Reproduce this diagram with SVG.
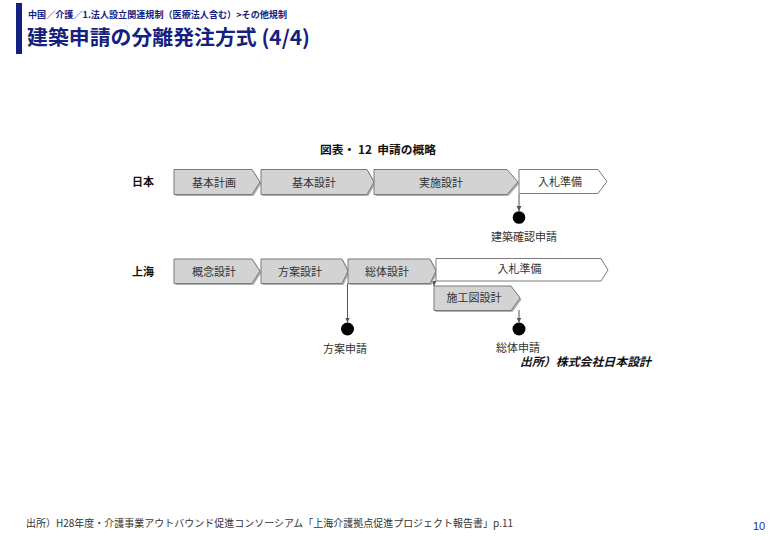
<svg xmlns="http://www.w3.org/2000/svg" width="780" height="540" viewBox="0 0 780 540">
<defs>
<style>
.jp{font-family:"Noto Sans CJK JP","Liberation Sans",sans-serif;}
.crumb{font-size:9px;font-weight:bold;fill:#14217f;}
.title{font-size:20.5px;font-weight:bold;fill:#14217f;}
.cap{font-size:11.5px;font-weight:bold;fill:#111;}
.row{font-size:11px;font-weight:bold;fill:#111;}
.lbl{font-size:11px;fill:#333;text-anchor:middle;}
.gbox{fill:#d3d3d3;stroke:#7a7a7a;stroke-width:1;}
.wbox{fill:#ffffff;stroke:#7a7a7a;stroke-width:1;}
.shadow{fill:#b0b0b0;stroke:none;}
.conn{stroke:#555;stroke-width:1;fill:none;}
.dot{fill:#000;}
.src{font-size:11.5px;font-weight:bold;font-style:italic;fill:#111;}
.foot{font-size:10px;fill:#333;}
.page{font-family:"Liberation Sans",Arial,sans-serif;font-size:11px;fill:#1a2a9a;}
</style>
<marker id="ah" markerWidth="6" markerHeight="6" refX="5" refY="3" orient="auto" markerUnits="userSpaceOnUse">
<path d="M0,0.5 L5,3 L0,5.5 Z" fill="#555"/>
</marker>
</defs>

<rect x="16" y="3" width="6" height="51" fill="#14217f"/>
<text class="jp crumb" x="28" y="18" textLength="259" lengthAdjust="spacingAndGlyphs">中国／介護／1.法人設立関連規制（医療法人含む）&gt;その他規制</text>
<text class="jp title" x="27" y="45" textLength="283" lengthAdjust="spacingAndGlyphs">建築申請の分離発注方式 (4/4)</text>

<text class="jp cap" x="320" y="154" xml:space="preserve" textLength="116" lengthAdjust="spacingAndGlyphs">図表・ 12  申請の概略</text>

<text class="jp row" x="132" y="186">日本</text>
<text class="jp row" x="132" y="276">上海</text>

<g id="connectors">
<line class="conn" x1="519" y1="194" x2="519" y2="211" marker-end="url(#ah)"/>
<line class="conn" x1="347.5" y1="283.5" x2="347.5" y2="322.5" marker-end="url(#ah)"/>
<line class="conn" x1="434" y1="281" x2="434" y2="286" marker-end="url(#ah)"/>
<line class="conn" x1="519" y1="310" x2="519" y2="322.5" marker-end="url(#ah)"/>
</g>

<g id="jp-kihonkeikaku">
<polygon class="shadow" points="175.5,171 253.5,171 261.5,183.5 253.5,196 175.5,196"/>
<polygon class="gbox" points="174,169.5 252,169.5 260,182 252,194.5 174,194.5"/>
<text class="jp lbl" x="214" y="186.5">基本計画</text>
</g>
<g id="jp-kihonsekkei">
<polygon class="shadow" points="262.5,171 368.5,171 375.5,183.5 368.5,196 262.5,196"/>
<polygon class="gbox" points="261,169.5 367,169.5 374,182 367,194.5 261,194.5"/>
<text class="jp lbl" x="314" y="186.5">基本設計</text>
</g>
<g id="jp-jisshisekkei">
<polygon class="shadow" points="375.5,171 508.5,171 519.5,183.5 508.5,196 375.5,196"/>
<polygon class="gbox" points="374,169.5 507,169.5 518,182 507,194.5 374,194.5"/>
<text class="jp lbl" x="441" y="186.5">実施設計</text>
</g>
<g id="jp-nyusatsu">
<polygon class="wbox" points="519,169.5 598,169.5 607,181.5 598,193.5 519,193.5"/>
<text class="jp lbl" x="560" y="186">入札準備</text>
</g>
<g id="jp-kakunin">
<circle class="dot" cx="519" cy="217.5" r="6.3"/>
<text class="jp lbl" x="524" y="240.5">建築確認申請</text>
</g>

<g id="sh-gainen">
<polygon class="shadow" points="175.5,260.5 253.5,260.5 261.5,272.5 253.5,285 175.5,285"/>
<polygon class="gbox" points="174,259 252,259 260,271 252,283.5 174,283.5"/>
<text class="jp lbl" x="214" y="275.5">概念設計</text>
</g>
<g id="sh-hoan">
<polygon class="shadow" points="262.5,260.5 343.5,260.5 349.5,272.5 343.5,285 262.5,285"/>
<polygon class="gbox" points="261,259 342,259 348,271 342,283.5 261,283.5"/>
<text class="jp lbl" x="300" y="275.5">方案設計</text>
</g>
<g id="sh-sotai">
<polygon class="shadow" points="349.5,260.5 431.5,260.5 437.5,272.5 431.5,285 349.5,285"/>
<polygon class="gbox" points="348,259 430,259 436,271 430,283.5 348,283.5"/>
<text class="jp lbl" x="387" y="275.5">総体設計</text>
</g>
<g id="sh-nyusatsu">
<polygon class="wbox" points="436,258.5 601,258.5 608,270 601,281 436,281"/>
<text class="jp lbl" x="519.5" y="273">入札準備</text>
</g>
<g id="sh-sekozu">
<polygon class="shadow" points="435.5,287.5 512.5,287.5 521.5,299.5 512.5,312 435.5,312"/>
<polygon class="gbox" points="434,286 511,286 520,298 511,310.5 434,310.5"/>
<text class="jp lbl" x="474" y="302">施工図設計</text>
</g>
<g id="sh-hoan-shinsei">
<circle class="dot" cx="347.5" cy="329" r="6.5"/>
<text class="jp lbl" x="345" y="353">方案申請</text>
</g>
<g id="sh-sotai-shinsei">
<circle class="dot" cx="519" cy="329" r="6.5"/>
<text class="jp lbl" x="518" y="352">総体申請</text>
</g>

<text class="jp src" x="520" y="366" textLength="131" lengthAdjust="spacingAndGlyphs">出所）株式会社日本設計</text>

<text class="jp foot" x="26" y="527" textLength="487" lengthAdjust="spacingAndGlyphs">出所）H28年度・介護事業アウトバウンド促進コンソーシアム「上海介護拠点促進プロジェクト報告書」p.11</text>
<text class="page" x="753" y="530">10</text>
</svg>
